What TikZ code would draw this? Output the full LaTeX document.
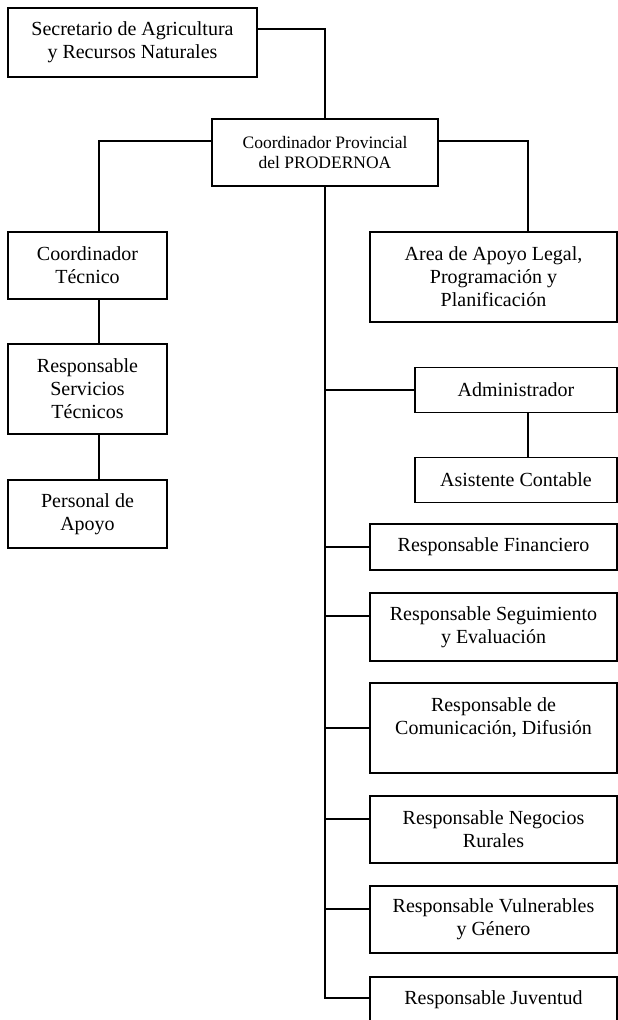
\documentclass[tikz,border=0pt]{standalone}
\usepackage{fontspec}
\setmainfont{Liberation Serif}
\begin{document}
\begin{tikzpicture}[x=1pt,y=-1pt,
  orgbox/.style={draw,line width=1.5pt,align=center,inner sep=0pt,
    font=\fontsize{20}{23}\selectfont},
  link/.style={line width=1.6pt}]
\useasboundingbox (0,0) rectangle (618,1020);
\clip (0,0) rectangle (618,1020);
\node[orgbox,minimum width=249pt,minimum height=69pt] (sec) at (132.5,42.5) {Secretario de Agricultura\\y Recursos Naturales};
\node[orgbox,minimum width=226pt,minimum height=67pt,font=\fontsize{17.5}{20}\selectfont] (cp) at (325,152.5) {Coordinador Provincial\\del PRODERNOA};
\node[orgbox,minimum width=159pt,minimum height=67pt] (ct) at (87.5,265.5) {Coordinador\\Técnico};
\node[orgbox,minimum width=159pt,minimum height=90pt] (rst) at (87.5,389) {Responsable\\Servicios\\Técnicos};
\node[orgbox,minimum width=159pt,minimum height=68pt] (pa) at (87.5,514) {Personal de\\Apoyo};
\node[orgbox,minimum width=247pt,minimum height=90pt] (area) at (493.5,277) {Area de Apoyo Legal,\\Programación y\\Planificación};
\node[orgbox,minimum width=202pt,minimum height=45pt] (adm) at (516,390) {Administrador};
\node[orgbox,minimum width=202pt,minimum height=45pt] (asis) at (516,480) {Asistente Contable};
\node[orgbox,minimum width=247pt,minimum height=46pt] (fin) at (493.5,547) {Responsable Financiero};
\node[orgbox,minimum width=247pt,minimum height=68pt] (seg) at (493.5,627) {Responsable Seguimiento\\y Evaluación};
\node[orgbox,minimum width=247pt,minimum height=90pt] (com) at (493.5,728) {Responsable de\\Comunicación, Difusión\\~};
\node[orgbox,minimum width=247pt,minimum height=67pt] (neg) at (493.5,829.5) {Responsable Negocios\\Rurales};
\node[orgbox,minimum width=247pt,minimum height=67pt] (vul) at (493.5,919.5) {Responsable Vulnerables\\y Género};
\node[orgbox,minimum width=247pt,minimum height=46pt] (juv) at (493.5,1000) {Responsable Juventud};
% attachment points
\coordinate (segw) at ([yshift=11pt]seg.west);
\coordinate (negw) at ([yshift=10.5pt]neg.west);
\coordinate (vulw) at ([yshift=10.5pt]vul.west);
\coordinate (juvw) at ([yshift=2pt]juv.west);
\coordinate (trunk) at (cp.south);
% connectors
\draw[link] ([yshift=13.5pt]sec.east) -| (cp.north);
\draw[link] ([yshift=11.5pt]cp.west) -| ([xshift=11.5pt]ct.north);
\draw[link] ([xshift=11.5pt]ct.south) -- ([xshift=11.5pt]rst.north);
\draw[link] ([xshift=11.5pt]rst.south) -- ([xshift=11.5pt]pa.north);
\draw[link] ([yshift=11.5pt]cp.east) -| ([xshift=34.5pt]area.north);
\draw[link] ([xshift=12pt]adm.south) -- ([xshift=12pt]asis.north);
\draw[link] (cp.south) |- (juvw);
\draw[link] (trunk |- adm.west) -- (adm.west);
\draw[link] (trunk |- fin.west) -- (fin.west);
\draw[link] (trunk |- segw) -- (segw);
\draw[link] (trunk |- com.west) -- (com.west);
\draw[link] (trunk |- negw) -- (negw);
\draw[link] (trunk |- vulw) -- (vulw);
\end{tikzpicture}
\end{document}
